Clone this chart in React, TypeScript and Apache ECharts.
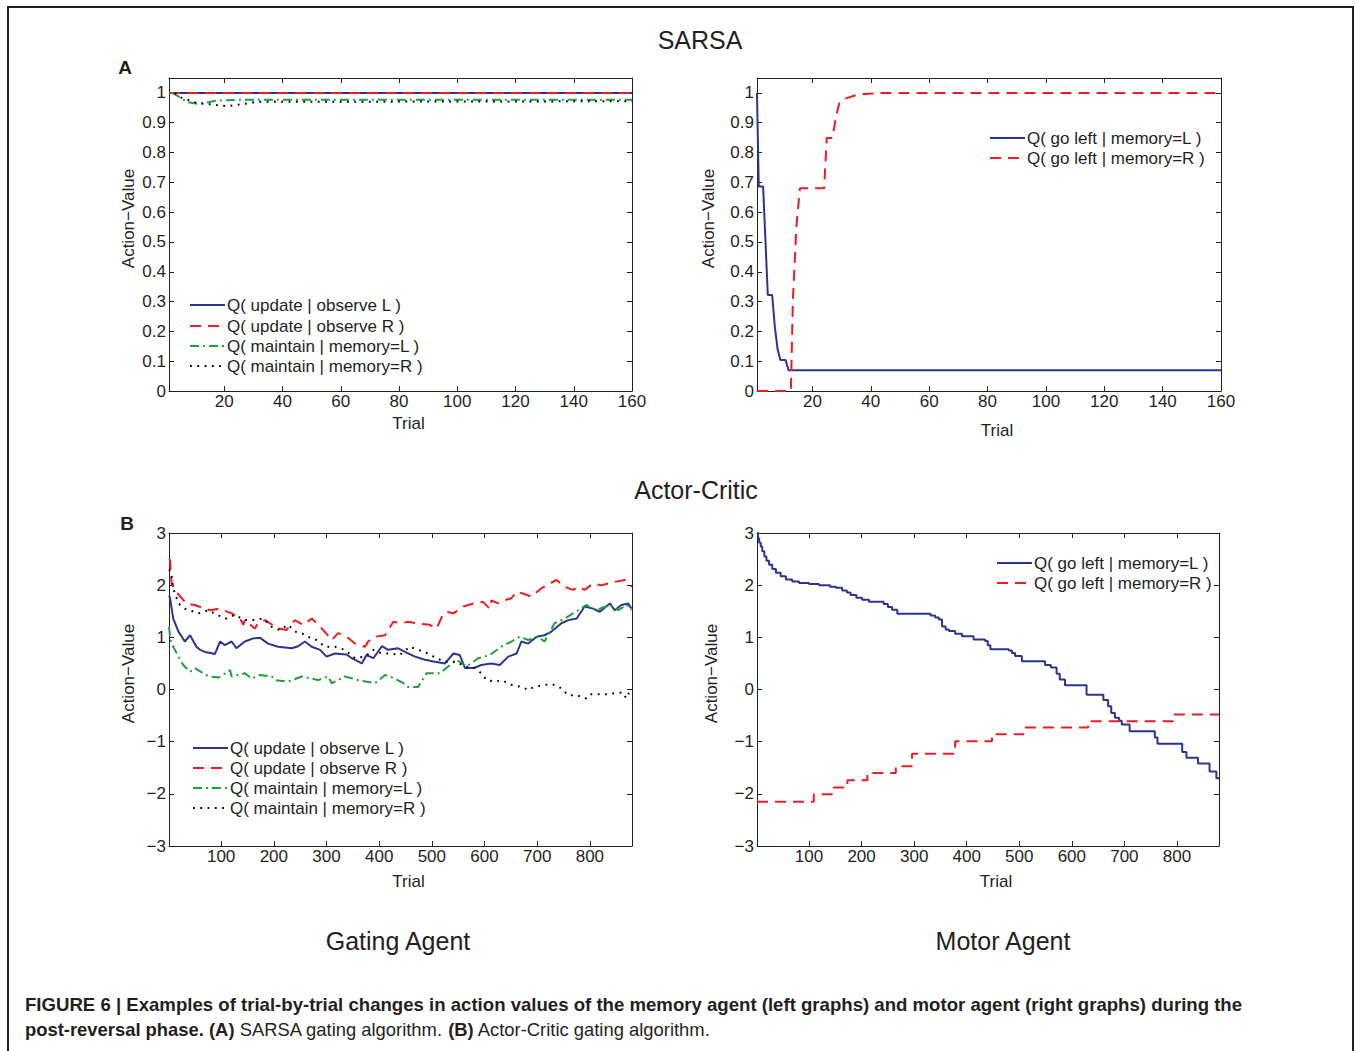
import React, { useEffect, useRef } from "react";
import * as echarts from "echarts";

// ---------- data ----------
const sarsaXTicks = [20, 40, 60, 80, 100, 120, 140, 160];
const sarsaYTicks = [0, 0.1, 0.2, 0.3, 0.4, 0.5, 0.6, 0.7, 0.8, 0.9, 1];
const acXTicks = [100, 200, 300, 400, 500, 600, 700, 800];
const acYTicks = [-3, -2, -1, 0, 1, 2, 3];

const gatingNames = [
  "Q( update | observe L )",
  "Q( update | observe R )",
  "Q( maintain | memory=L )",
  "Q( maintain | memory=R )",
];
const motorNames = ["Q( go left | memory=L )", "Q( go left | memory=R )"];

// SARSA gating agent
const sarsaUpdateL = [[1, 1], [160, 1]];
const sarsaUpdateR = [[1, 1], [160, 1]];
const sarsaMaintainL = [[2, 1.0], [4, 0.99], [7, 0.97], [11, 0.963], [14, 0.968], [17, 0.974], [25, 0.977], [160, 0.977]];
const sarsaMaintainR = [[3, 1.0], [5, 0.985], [11, 0.965], [15, 0.962], [21, 0.955], [26, 0.962], [31, 0.97], [160, 0.972]];

// SARSA motor agent
const sarsaGoLeftL = [[1, 1.0], [1.6, 0.686], [3.1, 0.686], [4.7, 0.322], [6.2, 0.322], [7.1, 0.216], [8.1, 0.138], [9, 0.104], [10.8, 0.104], [11.8, 0.07], [160, 0.07]];
const sarsaGoLeftR = [[1, 0], [12.6, 0], [13.3, 0.306], [14.5, 0.553], [15.7, 0.68], [24, 0.68], [24.9, 0.849], [26.8, 0.849], [28, 0.916], [29.2, 0.966], [31, 0.98], [35.3, 0.994], [40.2, 0.998], [45, 1.0], [160, 1.0]];

// Actor-Critic gating agent
const acUpdateL = [[1, 1.8], [3, 1.75], [9, 1.36], [19, 1.11], [31, 0.92], [41, 1.04], [53, 0.82], [60, 0.76], [69, 0.72], [80, 0.7], [88, 0.68], [98, 0.92], [107, 0.85], [120, 0.92], [129, 0.79], [145, 0.92], [161, 0.98], [174, 0.99], [189, 0.88], [208, 0.82], [234, 0.79], [246, 0.83], [259, 0.92], [272, 0.82], [288, 0.76], [300, 0.63], [316, 0.69], [338, 0.67], [348, 0.6], [367, 0.5], [376, 0.66], [389, 0.6], [405, 0.83], [417, 0.76], [436, 0.79], [449, 0.72], [468, 0.63], [487, 0.57], [506, 0.53], [525, 0.5], [541, 0.69], [553, 0.66], [563, 0.41], [579, 0.41], [594, 0.47], [613, 0.5], [629, 0.47], [645, 0.63], [661, 0.69], [670, 0.92], [683, 0.88], [699, 1.01], [714, 1.04], [727, 1.11], [746, 1.27], [759, 1.33], [775, 1.36], [790, 1.59], [806, 1.55], [819, 1.49], [838, 1.65], [847, 1.52], [860, 1.62], [873, 1.65], [879, 1.55]];
const acUpdateR = [[1, 2.5], [3, 2.48], [6, 2.03], [15, 1.87], [34, 1.65], [50, 1.62], [69, 1.55], [79, 1.52], [95, 1.55], [104, 1.52], [120, 1.46], [135, 1.38], [142, 1.24], [145, 1.33], [164, 1.17], [170, 1.27], [183, 1.33], [208, 1.17], [224, 1.14], [240, 1.33], [256, 1.24], [272, 1.36], [291, 1.17], [310, 0.95], [322, 1.08], [335, 1.04], [354, 0.88], [373, 0.82], [379, 0.92], [392, 1.01], [411, 1.04], [427, 1.3], [443, 1.27], [455, 1.3], [471, 1.27], [496, 1.24], [509, 1.17], [519, 1.39], [528, 1.49], [541, 1.46], [560, 1.59], [579, 1.65], [597, 1.68], [610, 1.55], [613, 1.71], [626, 1.65], [638, 1.71], [651, 1.75], [661, 1.87], [673, 1.84], [689, 1.78], [708, 1.94], [724, 2.03], [737, 2.1], [752, 1.97], [768, 1.91], [778, 1.97], [790, 1.91], [806, 2.03], [822, 2.0], [841, 2.05], [866, 2.1], [873, 2.03], [880, 1.97]];
const acMaintainL = [[1, 1.2], [3, 1.01], [6, 0.88], [22, 0.57], [28, 0.47], [41, 0.34], [50, 0.41], [76, 0.25], [95, 0.23], [117, 0.37], [120, 0.25], [145, 0.31], [158, 0.21], [174, 0.28], [196, 0.25], [202, 0.18], [227, 0.15], [253, 0.25], [272, 0.21], [284, 0.18], [303, 0.25], [310, 0.12], [335, 0.25], [360, 0.18], [392, 0.12], [411, 0.28], [430, 0.21], [446, 0.12], [455, 0.05], [474, 0.05], [490, 0.31], [515, 0.31], [531, 0.44], [547, 0.57], [566, 0.44], [588, 0.6], [610, 0.66], [632, 0.82], [651, 0.92], [667, 1.01], [683, 0.95], [702, 1.01], [714, 0.92], [733, 1.27], [752, 1.36], [778, 1.52], [793, 1.62], [812, 1.52], [838, 1.62], [854, 1.52], [870, 1.62], [879, 1.52]];
const acMaintainR = [[1, 2.3], [5, 2.26], [9, 1.94], [19, 1.65], [31, 1.55], [57, 1.46], [76, 1.52], [92, 1.43], [110, 1.36], [126, 1.43], [145, 1.33], [161, 1.33], [180, 1.36], [196, 1.2], [212, 1.14], [227, 1.24], [240, 1.11], [253, 1.08], [265, 1.01], [281, 0.95], [297, 0.82], [316, 0.82], [335, 0.76], [354, 0.6], [373, 0.63], [389, 0.76], [405, 0.69], [424, 0.69], [439, 0.66], [458, 0.82], [474, 0.76], [493, 0.69], [509, 0.6], [525, 0.53], [547, 0.53], [563, 0.44], [582, 0.41], [594, 0.31], [604, 0.18], [620, 0.15], [632, 0.18], [651, 0.09], [670, 0.05], [683, -0.01], [695, 0.05], [714, 0.09], [733, 0.09], [746, 0.02], [759, -0.11], [775, -0.11], [793, -0.17], [800, -0.09], [819, -0.09], [835, -0.09], [847, -0.07], [863, -0.06], [869, -0.17], [875, -0.05]];

// Actor-Critic motor agent (change points of staircase curves)
const acGoLeftL = [[1, 3.0], [3, 2.9], [5, 2.82], [8, 2.74], [11, 2.65], [15, 2.55], [19, 2.47], [24, 2.39], [30, 2.31], [37, 2.24], [46, 2.17], [56, 2.11], [68, 2.07], [81, 2.04], [100, 2.02], [119, 2.0], [140, 1.97], [151, 1.95], [163, 1.9], [172, 1.86], [179, 1.81], [190, 1.76], [201, 1.72], [214, 1.68], [242, 1.64], [250, 1.58], [258, 1.53], [268, 1.45], [331, 1.42], [340, 1.38], [347, 1.34], [353, 1.21], [360, 1.15], [366, 1.12], [378, 1.07], [391, 1.02], [413, 0.96], [435, 0.93], [440, 0.85], [445, 0.77], [480, 0.75], [486, 0.7], [492, 0.64], [505, 0.54], [549, 0.47], [560, 0.42], [571, 0.3], [577, 0.19], [587, 0.08], [628, -0.1], [660, -0.2], [669, -0.32], [675, -0.45], [682, -0.54], [690, -0.6], [695, -0.67], [710, -0.8], [758, -0.92], [763, -1.04], [810, -1.2], [818, -1.31], [840, -1.42], [862, -1.57], [875, -1.7], [880, -1.7]];
const acGoLeftR = [[1, -2.15], [109, -2.01], [147, -1.88], [173, -1.74], [211, -1.6], [265, -1.47], [296, -1.23], [378, -0.99], [448, -0.86], [508, -0.73], [631, -0.61], [793, -0.48], [880, -0.48]];

// ---------- styles ----------
const FONT = '"Liberation Sans", Arial, Helvetica, sans-serif';
const FS = 17;
const INK = "#231f20";
const BLUE = "#2b3590";
const RED = "#ed1c24";
const GREEN = "#1fa03a";
const BLACK = "#000000";
const STYLES = [
  { color: BLUE, dash: "solid" as any, width: 2 },
  { color: RED, dash: [11, 7], width: 2 },
  { color: GREEN, dash: [9, 4, 2, 4], width: 2 },
  { color: BLACK, dash: [1.8, 5.5], width: 2 },
];

const grids = [
  { left: 169, top: 78, width: 463, height: 313 },
  { left: 757, top: 78, width: 464, height: 313 },
  { left: 169, top: 533, width: 463, height: 313 },
  { left: 757, top: 533, width: 462, height: 313 },
];

const fmt = (v: number) => String(Math.round(v * 10) / 10).replace("-", "\u2212");

function xAxisPair(gi: number, min: number, max: number, ticks: number[], nameGap: number) {
  const base = {
    type: "value",
    gridIndex: gi,
    min,
    max,
    splitLine: { show: false },
    axisLine: { show: true, onZero: false, lineStyle: { color: INK, width: 1 } },
    axisTick: { show: true, inside: true, length: 5, customValues: ticks, lineStyle: { color: INK } },
  };
  return [
    {
      ...base,
      position: "bottom",
      axisLabel: { show: true, customValues: ticks, color: INK, fontSize: FS, fontFamily: FONT, margin: 2, formatter: fmt },
      name: "Trial",
      nameLocation: "middle",
      nameGap,
      nameTextStyle: { color: INK, fontSize: FS, fontFamily: FONT, padding: [0, 0, 0, 16] },
    },
    { ...base, position: "top", axisLabel: { show: false } },
  ];
}

function yAxisPair(gi: number, min: number, max: number, ticks: number[], nameGap: number) {
  const base = {
    type: "value",
    gridIndex: gi,
    min,
    max,
    splitLine: { show: false },
    axisLine: { show: true, onZero: false, lineStyle: { color: INK, width: 1 } },
    axisTick: { show: true, inside: true, length: 5, customValues: ticks, lineStyle: { color: INK } },
  };
  return [
    {
      ...base,
      position: "left",
      axisLabel: { show: true, customValues: ticks, color: INK, fontSize: FS, fontFamily: FONT, margin: 3, formatter: fmt },
      name: "Action\u2212Value",
      nameLocation: "middle",
      nameGap,
      nameRotate: 90,
      nameTextStyle: { color: INK, fontSize: FS, fontFamily: FONT, padding: [0, 0, 0, 32] },
    },
    { ...base, position: "right", axisLabel: { show: false } },
  ];
}

function mkSeries(name: string, data: number[][], gi: number, si: number, step?: string) {
  const s = STYLES[si];
  return {
    type: "line",
    name,
    data,
    xAxisIndex: gi * 2,
    yAxisIndex: gi * 2,
    showSymbol: false,
    symbol: "none",
    step: step || false,
    clip: true,
    lineStyle: { color: s.color, width: s.width, type: s.dash, cap: "butt" },
    z: 2 + (si === 0 ? 0 : 1),
  };
}

function legend(x0: number, ys: number[], names: string[]) {
  const children: any[] = [];
  names.forEach((n, i) => {
    const s = STYLES[i];
    children.push({
      type: "line",
      shape: { x1: x0, y1: ys[i], x2: x0 + 35, y2: ys[i] },
      style: { stroke: s.color, lineWidth: s.width, lineDash: s.dash === "solid" ? null : s.dash },
    });
    children.push({
      type: "text",
      x: x0 + 37,
      y: ys[i],
      style: { text: n, fill: INK, font: `${FS}px ${FONT}`, verticalAlign: "middle", align: "left" },
    });
  });
  return { type: "group", children };
}

function centerText(text: string, x: number, y: number, size: number, weight = "normal") {
  return {
    type: "text",
    x,
    y,
    style: { text, fill: INK, font: `${weight} ${size}px ${FONT}`, align: "center", verticalAlign: "middle" },
  };
}

export default function App() {
  const ref = useRef<HTMLDivElement>(null);
  useEffect(() => {
    document.body.style.margin = "0";
    document.body.style.overflow = "hidden";
    const chart = echarts.init(ref.current!, null, { renderer: "svg" });
    const option: any = {
      animation: false,
      backgroundColor: "#ffffff",
      grid: grids.map((g) => ({ ...g, show: false, containLabel: false })),
      xAxis: [
        ...xAxisPair(0, 1, 160, sarsaXTicks, 24),
        ...xAxisPair(1, 1, 160, sarsaXTicks, 31),
        ...xAxisPair(2, 1, 880, acXTicks, 27),
        ...xAxisPair(3, 1, 880, acXTicks, 27),
      ],
      yAxis: [
        ...yAxisPair(0, 0, 1.05, sarsaYTicks, 32.5),
        ...yAxisPair(1, 0, 1.05, sarsaYTicks, 40.5),
        ...yAxisPair(2, -3, 3, acYTicks, 32.5),
        ...yAxisPair(3, -3, 3, acYTicks, 37.5),
      ],
      series: [
        mkSeries(gatingNames[0], sarsaUpdateL, 0, 0),
        mkSeries(gatingNames[1], sarsaUpdateR, 0, 1),
        mkSeries(gatingNames[2], sarsaMaintainL, 0, 2),
        mkSeries(gatingNames[3], sarsaMaintainR, 0, 3),
        mkSeries(motorNames[0], sarsaGoLeftL, 1, 0),
        mkSeries(motorNames[1], sarsaGoLeftR, 1, 1),
        mkSeries(gatingNames[0], acUpdateL, 2, 0),
        mkSeries(gatingNames[1], acUpdateR, 2, 1),
        mkSeries(gatingNames[2], acMaintainL, 2, 2),
        mkSeries(gatingNames[3], acMaintainR, 2, 3),
        mkSeries(motorNames[0], acGoLeftL, 3, 0, "end"),
        mkSeries(motorNames[1], acGoLeftR, 3, 1, "end"),
      ],
      graphic: [
        {
          type: "rect",
          shape: { x: 8, y: 7, width: 1345, height: 1100 },
          style: { fill: "none", stroke: INK, lineWidth: 2 },
          silent: true,
        },
        centerText("SARSA", 700, 40, 25),
        centerText("Actor-Critic", 696, 490, 25),
        centerText("Gating Agent", 398, 941, 25),
        centerText("Motor Agent", 1003, 941, 25),
        centerText("A", 125, 67, 19, "bold"),
        centerText("B", 127, 523, 19, "bold"),
        legend(190, [305, 326, 346, 366], gatingNames),
        legend(990, [138, 158], motorNames),
        legend(193, [748, 768, 788, 808], gatingNames),
        legend(997, [563, 583], motorNames),
        {
          type: "text",
          x: 25,
          y: 1004,
          style: {
            text: "FIGURE 6 | Examples of trial-by-trial changes in action values of the memory agent (left graphs) and motor agent (right graphs) during the",
            fill: INK,
            font: `bold 18.6px ${FONT}`,
            verticalAlign: "middle",
            align: "left",
          },
        },
        {
          type: "text",
          x: 25,
          y: 1029,
          style: {
            text: "{b|post-reversal phase. (A)}{r| SARSA gating algorithm. }{b|(B)}{r| Actor-Critic gating algorithm.}",
            fill: INK,
            verticalAlign: "middle",
            align: "left",
            rich: {
              b: { fontWeight: "bold", fontSize: 18.4, fontFamily: FONT, fill: INK },
              r: { fontWeight: "normal", fontSize: 18.4, fontFamily: FONT, fill: INK },
            },
          },
        },
      ],
    };
    chart.setOption(option);
    return () => chart.dispose();
  }, []);
  return <div ref={ref} style={{ width: 1355, height: 1051 }} />;
}
